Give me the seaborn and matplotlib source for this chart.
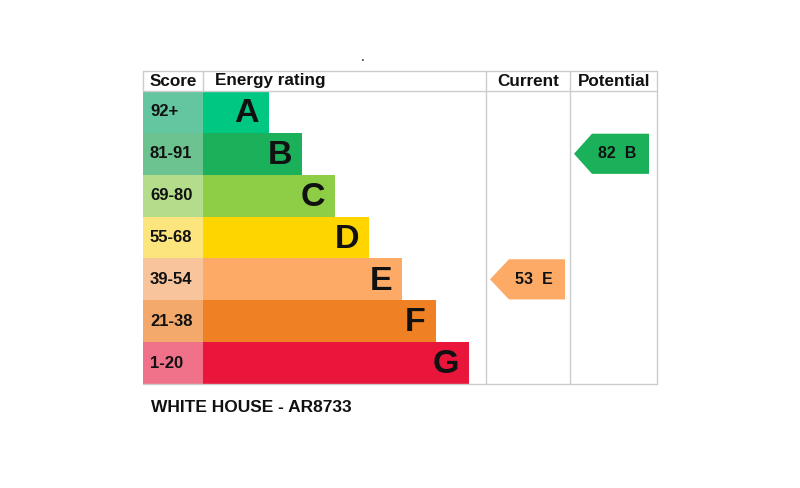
import matplotlib
matplotlib.use("Agg")
import matplotlib.pyplot as plt
import seaborn as sns
import pandas as pd
from matplotlib.patches import Polygon

bands = ["A", "B", "C", "D", "E", "F", "G"]
score_ranges = ["92+", "81-91", "69-80", "55-68", "39-54", "21-38", "1-20"]
bar_lengths = [66, 99, 132, 166, 199, 233, 266]
bar_colors = ["#00c781", "#1bb15a", "#8dce46", "#ffd500", "#fcaa65", "#ef8023", "#e9153b"]
score_colors = ["#64c6a0", "#6cc38f", "#b3dc8b", "#fde57e", "#f8c49c", "#f3a96c", "#f0718a"]
current_score, current_band = 53, "E"
potential_score, potential_band = 82, "B"
title = "WHITE HOUSE - AR8733"

sns.set_theme(style="white")
plt.rcParams["font.family"] = ["Liberation Sans", "DejaVu Sans"]

W, H = 800, 488
fig = plt.figure(figsize=(8, 4.88), dpi=100)
fig.patch.set_facecolor("white")
ax = fig.add_axes([143 / W, 1 - 384 / H, 514 / W, 313 / H])

df = pd.DataFrame({"band": bands, "length": bar_lengths, "score": score_ranges})
sns.barplot(data=df, x="length", y="band", hue="band", palette=bar_colors,
            width=1.0, orient="h", legend=False, ax=ax, saturation=1, linewidth=0)
df2 = pd.DataFrame({"band": bands, "neg": [-60] * 7})
sns.barplot(data=df2, x="neg", y="band", hue="band", palette=score_colors,
            width=1.0, orient="h", legend=False, ax=ax, saturation=1, linewidth=0)

hdr = -0.5 - 20 / (293 / 7)
ax.set_xlim(-60, 454)
ax.set_ylim(6.5, hdr)
ax.set_axis_off()

for i, (b, L, s) in enumerate(zip(bands, bar_lengths, score_ranges)):
    ax.text(L - 10, i + 0.04, b, ha="right", va="center", fontsize=24.5,
            fontweight="bold", color="#111111")
    ax.text(-53, i, s, ha="left", va="center", fontsize=12,
            fontweight="bold", color="#111111")

# grid lines
lc = "#cccccc"
hmid = (hdr - 0.5) / 2
ax.plot([-60, 454], [hdr, hdr], color=lc, lw=1, clip_on=False)
ax.plot([-60, 454], [-0.5, -0.5], color=lc, lw=1, clip_on=False)
ax.plot([-60, 454], [6.5, 6.5], color=lc, lw=1, clip_on=False)
ax.plot([-60, -60], [hdr, -0.5], color=lc, lw=1, clip_on=False)
ax.plot([0, 0], [hdr, -0.5], color=lc, lw=1, clip_on=False)
for xx in [283, 367, 454]:
    ax.plot([xx, xx], [hdr, 6.5], color=lc, lw=1, clip_on=False)

hk = dict(va="center", fontsize=12.3, fontweight="bold", color="#111111")
ax.text(-53, hmid, "Score", ha="left", **hk)
ax.text(12, hmid, "Energy rating", ha="left", **hk)
ax.text(325, hmid, "Current", ha="center", **hk)
ax.text(411, hmid, "Potential", ha="center", **hk)


def arrow(x_tip, x_body, x_right, row, color, label):
    h = 0.48
    poly = Polygon([(x_tip, row), (x_body, row - h), (x_right, row - h),
                    (x_right, row + h), (x_body, row + h)], closed=True,
                   facecolor=color, edgecolor="none")
    ax.add_patch(poly)
    ax.text((x_tip + x_right) / 2 + 6, row, label, ha="center", va="center",
            fontsize=11.5, fontweight="bold", color="#111111")


arrow(287, 306, 362, bands.index(current_band), bar_colors[bands.index(current_band)],
      f"{current_score}  {current_band}")
arrow(371, 389, 446, bands.index(potential_band), bar_colors[bands.index(potential_band)],
      f"{potential_score}  {potential_band}")

fig.text(151 / W, 1 - 408 / H, title, ha="left", va="center", fontsize=12.5,
         fontweight="bold", color="#111111")
fig.text(363 / W, 1 - 57 / H, ".", ha="center", va="center", fontsize=10, color="#111111")

fig.savefig("out.png", dpi=100, facecolor="white")
